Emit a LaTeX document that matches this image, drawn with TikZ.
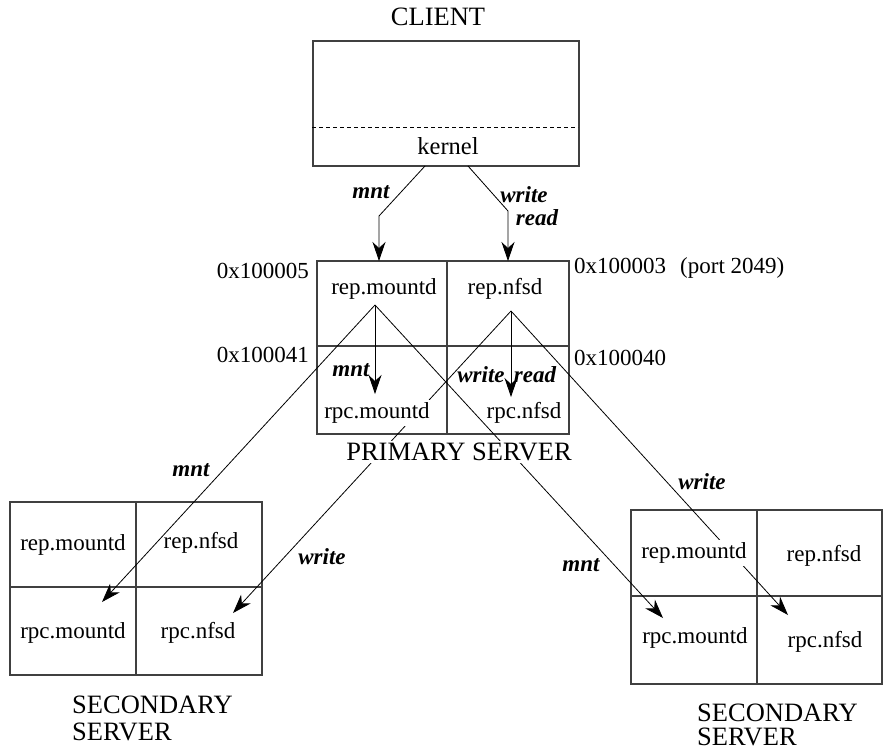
\documentclass[tikz,border=0pt]{standalone}
\usepackage{fontspec}
\setmainfont{Liberation Serif}
\usetikzlibrary{arrows.meta}
\begin{document}
\begin{tikzpicture}[x=1pt,y=-1pt,
  box/.style={draw=black!75,line width=1.1pt,inner sep=0pt},
  grid/.style={draw=black!75,line width=1.1pt},
  conn/.style={line width=0.8pt,-{Stealth[length=19pt,width=13pt,inset=6pt]}},
  cell/.style={inner sep=3pt,font=\fontsize{23}{27}\selectfont},
  mask/.style={fill=white},
  hexlbl/.style={inner sep=0pt,font=\fontsize{23}{27}\selectfont},
  title/.style={inner sep=2.5pt,font=\fontsize{26.5}{30}\selectfont},
  op/.style={inner sep=0pt,font=\fontsize{23}{27}\selectfont\bfseries\itshape}
]
\useasboundingbox (0,0) rectangle (883,755);

% boxes
\node[box,minimum width=266pt,minimum height=125pt] (client) at (446,103.5) {};
\draw[dashed,line width=0.8pt,dash pattern=on 4pt off 3pt] (client.south west) ++(0,-39) -- ++(266,0);
\node[box,minimum width=252pt,minimum height=173pt] (prim) at (443,347.5) {};
\draw[grid] (447,261) -- (447,434);
\draw[grid] (317,346) -- (569,346);
\node[box,minimum width=252pt,minimum height=173pt] (secl) at (136,588.5) {};
\draw[grid] (136,502) -- (136,675);
\draw[grid] (10,587) -- (262,587);
\node[box,minimum width=251pt,minimum height=174pt] (secr) at (756.5,597) {};
\draw[grid] (757,510) -- (757,684);
\draw[grid] (631,596) -- (882,596);

% connector end points
\coordinate (ck1) at (425,166);
\coordinate (cb1) at (379,216);
\coordinate (ct1) at (379,261);
\coordinate (ck2) at (468,166);
\coordinate (cb2) at (508,211);
\coordinate (ct2) at (508,261);
\coordinate (pm) at (375,305);
\coordinate (pmt) at (375,394);
\coordinate (pn) at (511,311);
\coordinate (pnt) at (511,397);
\coordinate (lmt) at (102,602);
\coordinate (lnt) at (233,613);
\coordinate (rmt) at (663,618);
\coordinate (rnt) at (788,615);

% connectors
\draw[conn] (ck1) -- (cb1) -- (ct1);
\draw[conn] (ck2) -- (cb2) -- (ct2);
\draw[conn] (pm) -- (pmt);
\draw[conn] (pn) -- (pnt);
\draw[conn] (pm) -- (lmt);
\draw[conn] (pm) -- (rmt);
\draw[conn] (pn) -- (lnt);
\draw[conn] (pn) -- (rnt);

% titles
\node[title] (tclient) at (438,17) {CLIENT};
\node[cell,font=\fontsize{24.5}{28}\selectfont] (kernel) at (448,146) {kernel};
\node[title,mask] (tprim) at (459,452) {PRIMARY SERVER};
\node[title,anchor=west,inner sep=0pt] (tsecl1) at (72,705) {SECONDARY};
\node[title,anchor=west,inner sep=0pt] (tsecl2) at (72,732) {SERVER};
\node[title,anchor=west,inner sep=0pt] (tsecr1) at (697,713) {SECONDARY};
\node[title,anchor=west,inner sep=0pt] (tsecr2) at (697,737) {SERVER};

% primary cells
\node[cell] (prm) at (384,289) {rep.mountd};
\node[cell] (prn) at (505,289) {rep.nfsd};
\node[cell,mask] (ppm) at (377,413) {rpc.mountd};
\node[cell] (ppn) at (524,413) {rpc.nfsd};

% left secondary cells
\node[cell] (lrm) at (73,545) {rep.mountd};
\node[cell] (lrn) at (201,543) {rep.nfsd};
\node[cell] (lpm) at (73,633) {rpc.mountd};
\node[cell] (lpn) at (198,633) {rpc.nfsd};

% right secondary cells
\node[cell,mask] (rrm) at (694,553) {rep.mountd};
\node[cell] (rrn) at (824,556) {rep.nfsd};
\node[cell] (rpm) at (695,638) {rpc.mountd};
\node[cell] (rpn) at (825,642) {rpc.nfsd};

% hex labels
\node[hexlbl,anchor=east] (h5) at (309,271) {0x100005};
\node[hexlbl,anchor=east] (h41) at (309,355) {0x100041};
\node[hexlbl,anchor=west] (h3) at (574,268) {0x100003\hspace{14pt}(port 2049)};
\node[hexlbl,anchor=west] (h40) at (574,358) {0x100040};

% operation labels
\node[op] (o1) at (371,192) {mnt};
\node[op] (o2) at (524,195) {write};
\node[op] (o3) at (537,218) {read};
\node[op] (o4) at (351,370) {mnt};
\node[op] (o5) at (481,375) {write};
\node[op] (o6) at (535,375) {read};
\node[op] (o7) at (191,470) {mnt};
\node[op] (o8) at (322,557) {write};
\node[op] (o9) at (581,565) {mnt};
\node[op] (o10) at (702,482) {write};
\end{tikzpicture}
\end{document}
